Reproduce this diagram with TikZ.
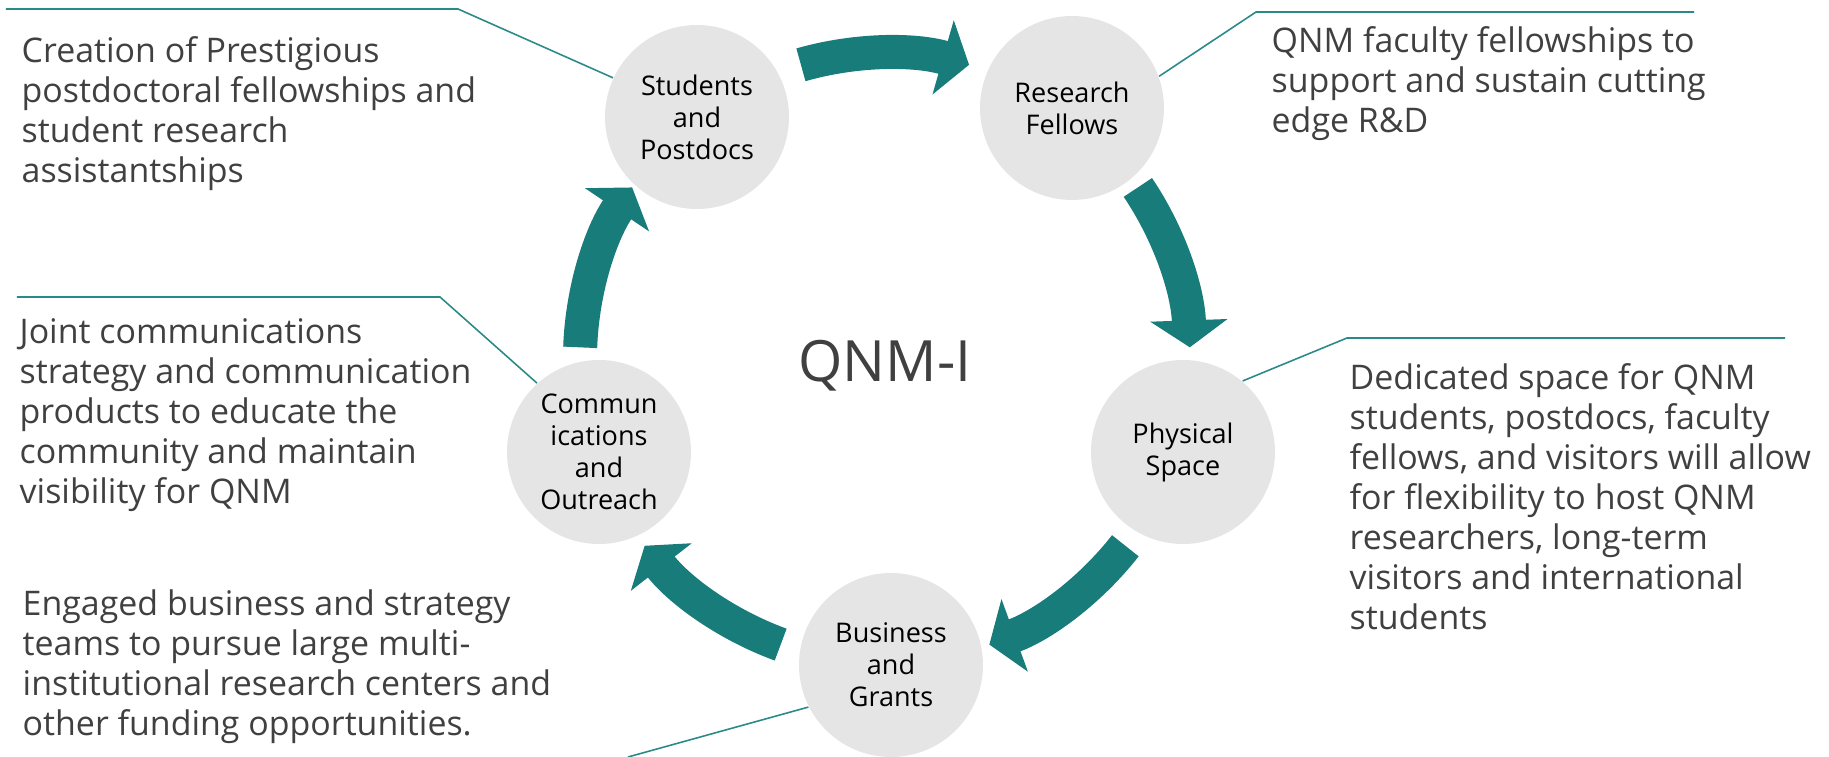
\documentclass[tikz,border=0pt]{standalone}
\usepackage{fontspec}
\setmainfont{Open Sans}
\usetikzlibrary{arrows.meta}
\definecolor{qteal}{RGB}{24,124,122}
\definecolor{qline}{RGB}{42,138,136}
\definecolor{qdisc}{RGB}{229,229,229}
\definecolor{qtext}{RGB}{64,64,64}

\begin{document}
\begin{tikzpicture}[
        stage/.style={circle, fill=qdisc, minimum size=1.84cm, inner sep=0pt, align=center, text=black, font=\fontsize{7.7}{9.1}\selectfont},
        desc/.style={anchor=north west, inner sep=0pt, align=left, text=qtext, font=\fontsize{9.65}{11.38}\selectfont},
        leader/.style={draw=qline, line width=0.45pt},
        flow/.style={draw=qteal, line width=0.34cm, -{Triangle[length=0.27cm, width=0.76cm]}}
    ]
        \useasboundingbox (0,0) rectangle (18.29,-7.57);

        % the five stages round the cycle
        \node at (6.97,-1.17) [stage] (students) {Students\\and\\Postdocs};
        \node at (10.72,-1.08) [stage] (fellows) {Research\\Fellows};
        \node at (11.83,-4.52) [stage] (space) {Physical\\Space};
        \node at (8.91,-6.65) [stage] (grants) {Business\\and\\Grants};
        \node at (5.99,-4.52) [stage] (outreach) {Commun\\ications\\and\\Outreach};

        \coordinate (hub) at (8.85,-3.58);
        \node at (8.85,-3.82) [anchor=base, inner sep=0pt, text=qtext, font=\fontsize{16.2}{19}\selectfont] (title) {QNM-I};

        % arrows between the stages
        \draw[flow] ([shift={(106:3.05)}]hub) arc[start angle=106, end angle=74, radius=3.05];
        \draw[flow] ([shift={(34:3.05)}]hub) arc[start angle=34, end angle=2, radius=3.05];
        \draw[flow] ([shift={(-38:3.05)}]hub) arc[start angle=-38, end angle=-70, radius=3.05];
        \draw[flow] ([shift={(-110:3.05)}]hub) arc[start angle=-110, end angle=-142, radius=3.05];
        \draw[flow] ([shift={(178:3.05)}]hub) arc[start angle=178, end angle=146, radius=3.05];

        % descriptions
        \node at (0.21,-0.355) [desc] (students_txt) {Creation of Prestigious\\postdoctoral fellowships and\\student research\\assistantships};
        \node at (12.71,-0.255) [desc] (fellows_txt) {QNM faculty fellowships to\\support and sustain cutting\\edge R\&D};
        \node at (13.49,-3.625) [desc] (space_txt) {Dedicated space for QNM\\students, postdocs, faculty\\fellows, and visitors will allow\\for flexibility to host QNM\\researchers, long-term\\visitors and international\\students};
        \node at (0.22,-5.895) [desc] (grants_txt) {Engaged business and strategy\\teams to pursue large multi-\\institutional research centers and\\other funding opportunities.};
        \node at (0.19,-3.175) [desc] (outreach_txt) {Joint communications\\strategy and communication\\products to educate the\\community and maintain\\visibility for QNM};

        % leader lines
        \coordinate (students_a) at (0.06,-0.09);
        \coordinate (students_b) at (4.58,-0.09);
        \coordinate (fellows_a) at (12.56,-0.12);
        \coordinate (fellows_b) at (16.94,-0.12);
        \coordinate (space_a) at (13.47,-3.38);
        \coordinate (space_b) at (17.85,-3.38);
        \coordinate (outreach_a) at (0.17,-2.97);
        \coordinate (outreach_b) at (4.40,-2.97);
        \coordinate (grants_a) at (6.28,-7.57);

        \draw[leader] (students_a) -- (students_b) -- (students.155);
        \draw[leader] (fellows.20) -- (fellows_a) -- (fellows_b);
        \draw[leader] (space.50) -- (space_a) -- (space_b);
        \draw[leader] (outreach_a) -- (outreach_b) -- (outreach.132);
        \draw[leader] (grants.207) -- (grants_a);

    \end{tikzpicture}
\end{document}
